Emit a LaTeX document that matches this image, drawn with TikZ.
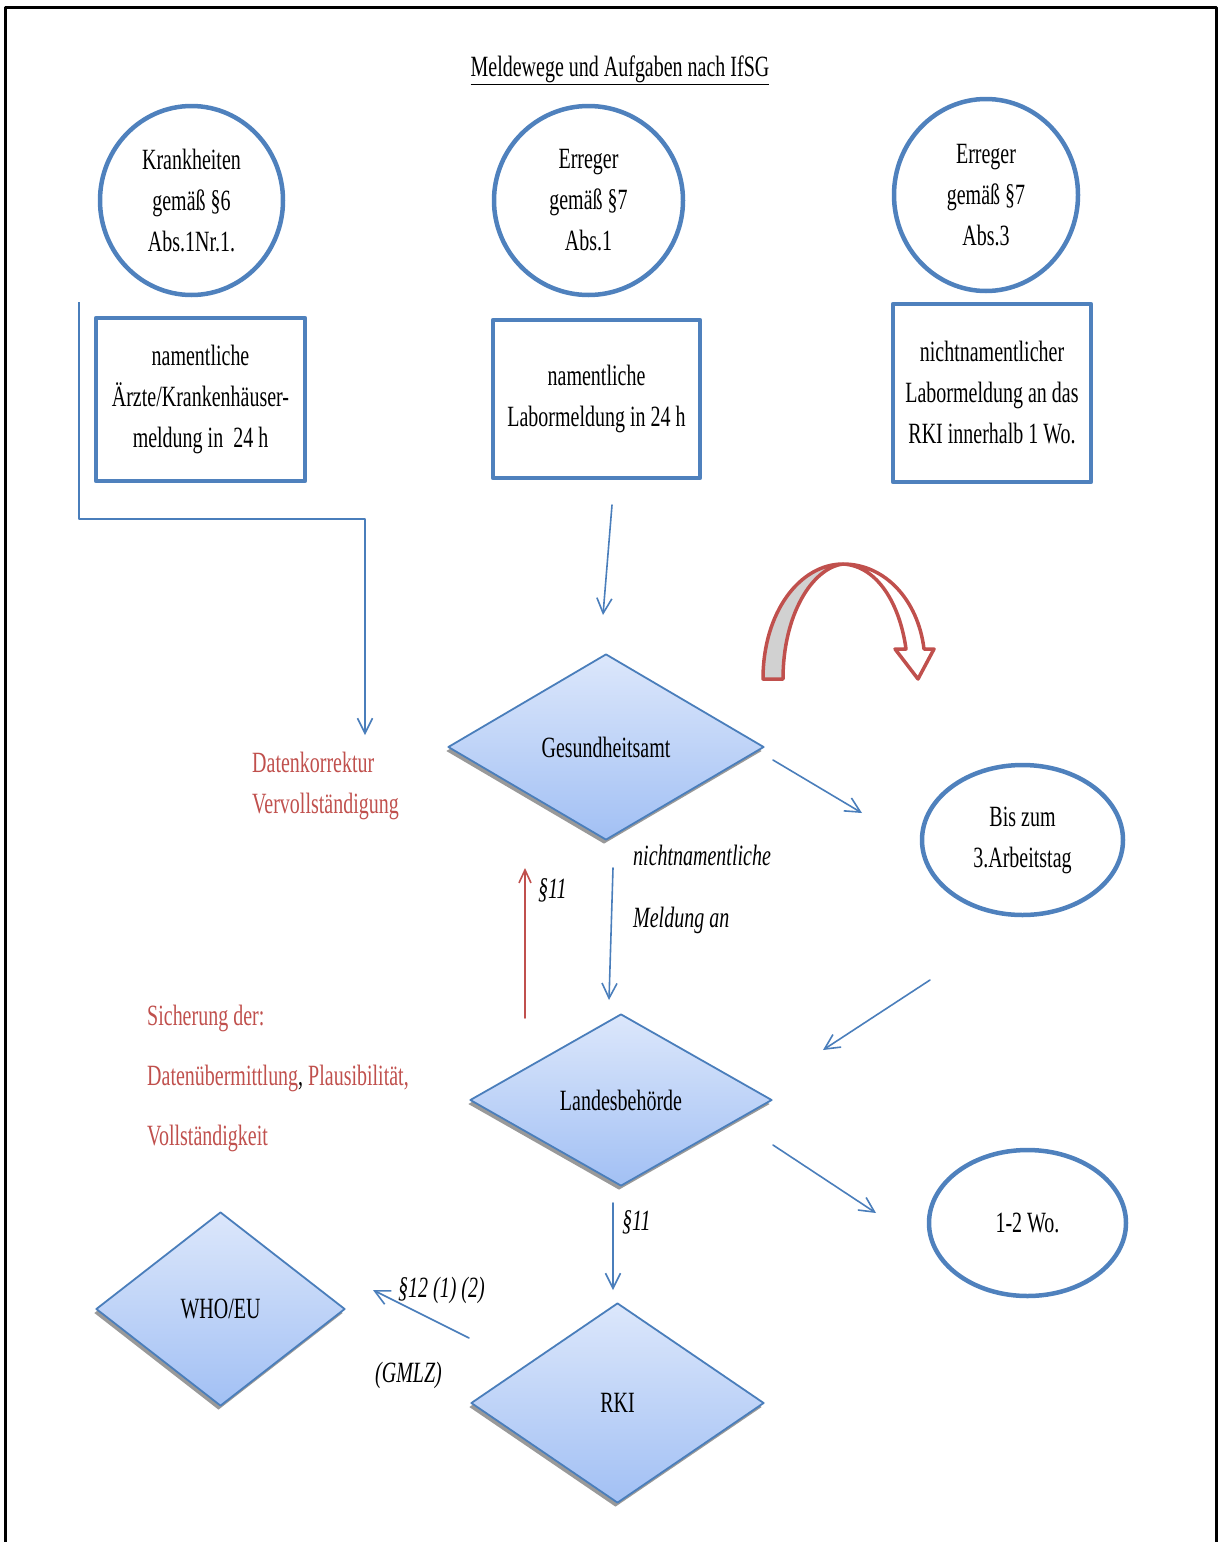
\documentclass[tikz,border=0pt]{standalone}
\usepackage{fontspec}
\setmainfont{Liberation Serif}[FakeStretch=0.68]
\usetikzlibrary{shapes.geometric,shadows,arrows.meta}
\definecolor{blueline}{HTML}{4F81BD}
\definecolor{arrowblue}{HTML}{4A7EBB}
\definecolor{redline}{HTML}{C0504D}
\definecolor{diatop}{HTML}{DCE7FB}
\definecolor{diabot}{HTML}{A2C0F4}

\begin{document}
\begin{tikzpicture}[x=1pt,y=-1pt,line cap=round,line join=round,
  every node/.style={inner sep=1pt,font=\fontsize{29.4}{41}\selectfont},
  ring/.style={ellipse,draw=blueline,line width=4.5pt,align=center},
  box/.style={rectangle,draw=blueline,line width=4.5pt,align=center},
  office/.style={diamond,draw=arrowblue,line width=1.8pt,top color=diatop,bottom color=diabot,
    drop shadow={shadow xshift=-2pt,shadow yshift=-4pt,fill=black!40,opacity=1}},
  flow/.style={draw=arrowblue,line width=1.6pt,-{Straight Barb[length=15pt,width=15pt]}},
  back/.style={draw=redline,line width=1.6pt,-{Straight Barb[length=13pt,width=12pt]}},
  note/.style={text=redline,align=left,anchor=west},
  lab/.style={anchor=west,align=left,font=\fontsize{29.4}{41}\selectfont\itshape}]
  \useasboundingbox (0,0) rectangle (1219,1542);
  \draw[line width=3pt,line cap=butt] (5,1542) -- (5,7) -- (1216,7) -- (1216,1542);
  \node[anchor=base] (title) at (620,76) {\underline{Meldewege und Aufgaben nach IfSG}};
  % Meldepflichten
  \node[ring,minimum width=183pt,minimum height=189pt] (krank) at (191.5,200.5) {Krankheiten\\gemäß §6\\Abs.1Nr.1.};
  \node[ring,minimum width=189pt,minimum height=189pt] (erreg1) at (588.5,200.5) {Erreger\\gemäß §7\\Abs.1};
  \node[ring,minimum width=184pt,minimum height=192pt] (erreg3) at (986,195) {Erreger\\gemäß §7\\Abs.3};
  \node[box,minimum width=209pt,minimum height=163pt] (arzt) at (200.5,399.5) {namentliche\\Ärzte/Krankenhäuser-\\meldung in~ 24 h};
  \node[box,minimum width=207pt,minimum height=158pt] (labor) at (596.5,399) {namentliche\\Labormeldung in 24 h};
  \node[box,minimum width=198pt,minimum height=178pt] (rkilab) at (992,393) {nichtnamentlicher\\Labormeldung an das\\RKI innerhalb 1 Wo.};
  % Behoerden
  \node[office,minimum width=316pt,minimum height=186pt] (gesund) at (606,747) {Gesundheitsamt};
  \node[office,minimum width=302pt,minimum height=172pt] (landes) at (621,1100) {Landesbehörde};
  \node[office,minimum width=293pt,minimum height=200pt] (rki) at (617.5,1403) {RKI};
  \node[office,minimum width=249pt,minimum height=194pt] (who) at (220.5,1309) {WHO/EU};
  \node[ring,minimum width=201pt,minimum height=150pt] (frist) at (1022.5,840) {Bis zum\\3.Arbeitstag};
  \node[ring,minimum width=197pt,minimum height=146pt] (wochen) at (1027.5,1223) {1-2 Wo.};
  % Beschriftungen
  \node[note] (korr) at (251,786) {Datenkorrektur\\Vervollständigung};
  \node[note,font=\fontsize{29.4}{60}\selectfont] (sicher) at (146,1078) {Sicherung der:\\Datenübermittlung{\color{black},} Plausibilität,\\Vollständigkeit};
  \node[lab,font=\fontsize{29.4}{62}\selectfont\itshape] (nicht) at (632,889) {nichtnamentliche\\Meldung an};
  \node[lab] (par11a) at (537,890) {§11};
  \node[lab] (par11b) at (621,1222) {§11};
  \node[lab] (par12) at (397,1290) {§12 (1) (2)};
  \node[lab] (gmlz) at (374,1375) {(GMLZ)};
  % Pfeile
  \coordinate (a1) at (79,302);   \coordinate (a2) at (365,735);
  \coordinate (b1) at (612,505);  \coordinate (b2) at (603,615);
  \coordinate (c1) at (773,760);  \coordinate (c2) at (862,813);
  \coordinate (d1) at (613,868);  \coordinate (d2) at (609,1000);
  \coordinate (e1) at (525,1018); \coordinate (e2) at (525,868);
  \coordinate (f1) at (930,980);  \coordinate (f2) at (823,1050);
  \coordinate (g1) at (773,1145); \coordinate (g2) at (876,1213);
  \coordinate (h1) at (613,1203); \coordinate (h2) at (613,1290);
  \coordinate (i1) at (469,1338); \coordinate (i2) at (373,1290);
  \draw[flow,line cap=butt] (a1) -- ++(0,217) -| (a2);
  \draw[flow] (b1) -- (b2);
  \draw[flow] (c1) -- (c2);
  \draw[flow] (d1) -- (d2);
  \draw[back] (e1) -- (e2);
  \draw[flow] (f1) -- (f2);
  \draw[flow] (g1) -- (g2);
  \draw[flow] (h1) -- (h2);
  \draw[flow] (i1) -- (i2);
  % gebogener Pfeil
  \draw[redline,line width=3.5pt,fill=black!18] (763,679) .. controls (763,612) and (800,564) .. (843,564)
    .. controls (812,568) and (783,615) .. (783,679) -- cycle;
  \draw[redline,line width=3.5pt,fill=white] (843,564) .. controls (885,564) and (918,600) .. (924,649)
    -- (934,649) -- (918,679) -- (895,649) -- (906,649) .. controls (900,605) and (878,566) .. (843,564) -- cycle;
\end{tikzpicture}
\end{document}
